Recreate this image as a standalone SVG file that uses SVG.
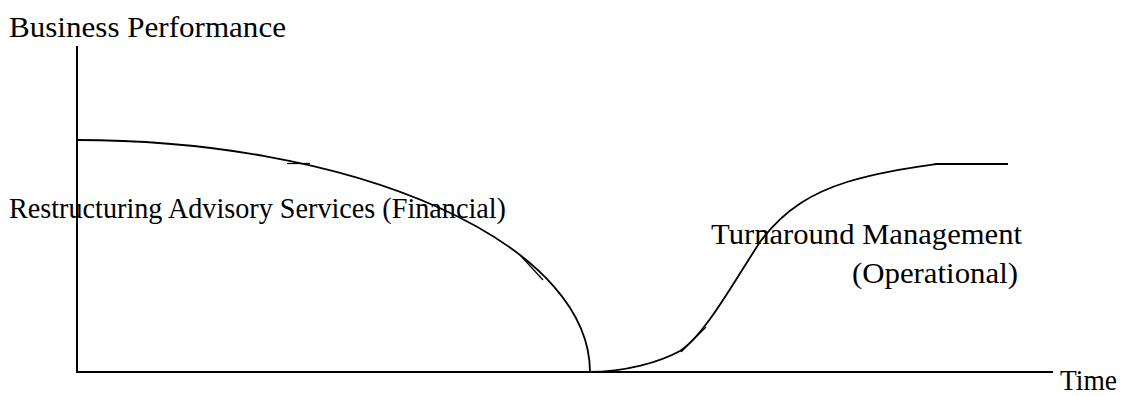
<svg xmlns="http://www.w3.org/2000/svg" width="1126" height="396" viewBox="0 0 1126 396">
<style>
.ln{fill:none;stroke:#000;stroke-width:2}
.cv{fill:none;stroke:#000;stroke-width:1.8}
.tk{fill:none;stroke:#000;stroke-width:1.2}
text{font-family:"Liberation Serif","Times New Roman",serif;font-size:29px;fill:#000}
</style>
<rect width="1126" height="396" fill="#fff"/>
<g id="axes">
<line class="ln" x1="77" y1="46" x2="77" y2="372"/>
<line class="ln" x1="76" y1="372" x2="1053" y2="372"/>
<line class="tk" x1="543" y1="372.5" x2="590" y2="372.5"/>
</g>
<g id="connectors">
<path id="financial-curve" class="cv" d="M77,140 A513,232 0 0 1 590,372"/>
<path id="operational-curve" class="cv" d="M589,372 C625,372 660,362 680,351 C705,335 735,280 760,242 C785,208 815,192 847,182 C880,172 910,168 937,164 L1008,164"/>
<line class="tk" x1="287" y1="163.5" x2="310" y2="163.5"/>
<line class="tk" x1="520" y1="255" x2="543" y2="280"/>
<line class="tk" x1="681" y1="352" x2="706" y2="327"/>
</g>
<g id="label-y"><text x="9" y="37" textLength="277" lengthAdjust="spacingAndGlyphs">Business Performance</text></g>
<g id="label-financial"><text x="9" y="218" textLength="497" lengthAdjust="spacingAndGlyphs">Restructuring Advisory Services (Financial)</text></g>
<g id="label-operational">
<text x="711" y="244" textLength="311" lengthAdjust="spacingAndGlyphs">Turnaround Management</text>
<text x="852" y="283" textLength="166" lengthAdjust="spacingAndGlyphs">(Operational)</text>
</g>
<g id="label-x"><text x="1060" y="390" textLength="57" lengthAdjust="spacingAndGlyphs">Time</text></g>
</svg>
